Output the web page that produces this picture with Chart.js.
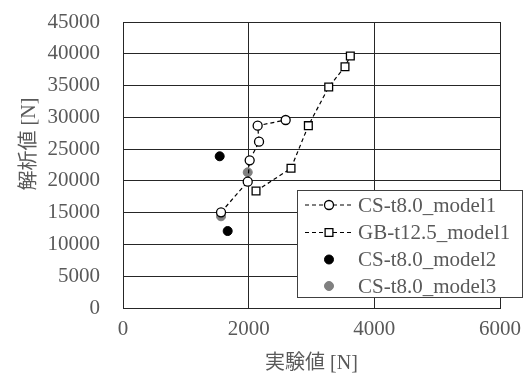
<!DOCTYPE html>
<html><head><meta charset="utf-8">
<script src="https://cdn.jsdelivr.net/npm/chart.js@4/dist/chart.umd.min.js"></script>
<style>html,body{margin:0;padding:0;background:#fff}</style>
</head><body>
<canvas id="c" width="530" height="376"></canvas>
<script>
const seriesNames = ['CS-t8.0_model1', 'GB-t12.5_model1', 'CS-t8.0_model2', 'CS-t8.0_model3'];
const csModel1X = [1560, 1985, 2016, 2165, 2143, 2589];
const csModel1Y = [15060, 19870, 23240, 26170, 28690, 29580];
const gbModel1X = [2117, 2674, 2950, 3274, 3533, 3618];
const gbModel1Y = [18410, 21980, 28690, 34770, 37970, 39650];
const csModel2X = [1539, 1666];
const csModel2Y = [23870, 12110];
const csModel3X = [1985, 1560];
const csModel3Y = [21350, 14430];
const xTicks = [0, 2000, 4000, 6000];
const yTicks = [0, 5000, 10000, 15000, 20000, 25000, 30000, 35000, 40000, 45000];
const xTitle = '実験値 [N]';
const yTitle = '解析値 [N]';

const pts = (xs, ys) => xs.map((x, i) => ({x: x, y: ys[i]}));
const FONT = "'Liberation Serif', 'Noto Sans CJK JP', serif";
const TXT = '#595959';
const GRID = '#262626';

function zeroPad(s) { s.paddingTop = 0; s.paddingBottom = 0; s.paddingLeft = 0; s.paddingRight = 0; }

const legendPlugin = {
  id: 'boxLegend',
  afterDraw(chart) {
    const ctx = chart.ctx;
    const bx = 297, by = 190, bw = 225, bh = 107;
    ctx.save();
    ctx.fillStyle = '#fff';
    ctx.fillRect(bx, by, bw, bh);
    ctx.strokeStyle = '#404040';
    ctx.lineWidth = 1;
    ctx.strokeRect(bx + 0.5, by + 0.5, bw, bh);
    const rowY = [205, 232.5, 259.5, 286];
    chart.data.datasets.forEach((ds, i) => {
      const y = rowY[i];
      if (ds.showLine) {
        ctx.save();
        ctx.strokeStyle = ds.borderColor;
        ctx.lineWidth = ds.borderWidth;
        ctx.setLineDash(ds.borderDash || []);
        ctx.beginPath();
        ctx.moveTo(305, y);
        ctx.lineTo(353, y);
        ctx.stroke();
        ctx.restore();
      }
      ctx.save();
      ctx.fillStyle = ds.pointBackgroundColor;
      ctx.strokeStyle = ds.pointBorderColor;
      ctx.lineWidth = ds.pointBorderWidth;
      Chart.helpers.drawPoint(ctx, {pointStyle: ds.pointStyle, radius: ds.pointRadius, borderWidth: ds.pointBorderWidth, rotation: 0}, 329, y);
      ctx.restore();
      ctx.fillStyle = TXT;
      ctx.font = "21px " + FONT;
      ctx.textAlign = 'left';
      ctx.textBaseline = 'middle';
      ctx.fillText(ds.label, 358, y + 1);
    });
    ctx.restore();
  }
};

const yTitlePlugin = {
  id: 'yTitle',
  afterDraw(chart) {
    const ctx = chart.ctx;
    ctx.save();
    ctx.translate(30, 144);
    ctx.rotate(-Math.PI / 2);
    ctx.fillStyle = TXT;
    ctx.font = "20px " + FONT;
    ctx.textAlign = 'center';
    ctx.textBaseline = 'middle';
    ctx.fillText(yTitle, 0, 0);
    ctx.restore();
  }
};

new Chart(document.getElementById('c'), {
  type: 'scatter',
  data: {
    datasets: [
      {label: seriesNames[0], data: pts(csModel1X, csModel1Y), showLine: true,
       borderColor: '#000', borderWidth: 1.2, borderDash: [4, 3],
       pointStyle: 'circle', pointRadius: 4.5, pointBackgroundColor: '#fff', pointBorderColor: '#000', pointBorderWidth: 1.3},
      {label: seriesNames[1], data: pts(gbModel1X, gbModel1Y), showLine: true,
       borderColor: '#000', borderWidth: 1.2, borderDash: [4, 3],
       pointStyle: 'rect', pointRadius: 5.5, pointBackgroundColor: '#fff', pointBorderColor: '#000', pointBorderWidth: 1.3},
      {label: seriesNames[2], data: pts(csModel2X, csModel2Y), showLine: false,
       pointStyle: 'circle', pointRadius: 4.5, pointBackgroundColor: '#000', pointBorderColor: '#000', pointBorderWidth: 1},
      {label: seriesNames[3], data: pts(csModel3X, csModel3Y), showLine: false,
       pointStyle: 'circle', pointRadius: 4.5, pointBackgroundColor: '#808080', pointBorderColor: '#808080', pointBorderWidth: 1}
    ]
  },
  options: {
    responsive: false,
    animation: false,
    devicePixelRatio: 1,
    layout: {autoPadding: false, padding: {top: 22, right: 30, left: 0, bottom: 0}},
    plugins: {legend: {display: false}, tooltip: {enabled: false}},
    scales: {
      x: {
        type: 'linear', min: 0, max: 6000,
        afterBuildTicks: s => { s.ticks = xTicks.map(v => ({value: v})); },
        afterFit: s => { s.height = 68; zeroPad(s); },
        grid: {color: GRID, lineWidth: 1, drawTicks: false},
        border: {display: true, color: GRID, width: 1},
        ticks: {color: TXT, font: {family: FONT, size: 21}, padding: 9, maxRotation: 0, callback: v => String(v)},
        title: {display: true, text: xTitle, color: TXT, font: {family: FONT, size: 20}, padding: {top: 0, bottom: 0}}
      },
      y: {
        type: 'linear', min: 0, max: 45000,
        afterBuildTicks: s => { s.ticks = yTicks.map(v => ({value: v})); },
        afterFit: s => { s.width = 123; zeroPad(s); },
        grid: {color: GRID, lineWidth: 1, drawTicks: false},
        border: {display: true, color: GRID, width: 1},
        ticks: {color: TXT, font: {family: FONT, size: 21}, padding: 23, callback: v => String(v)}
      }
    }
  },
  plugins: [legendPlugin, yTitlePlugin]
});
</script>
</body></html>
